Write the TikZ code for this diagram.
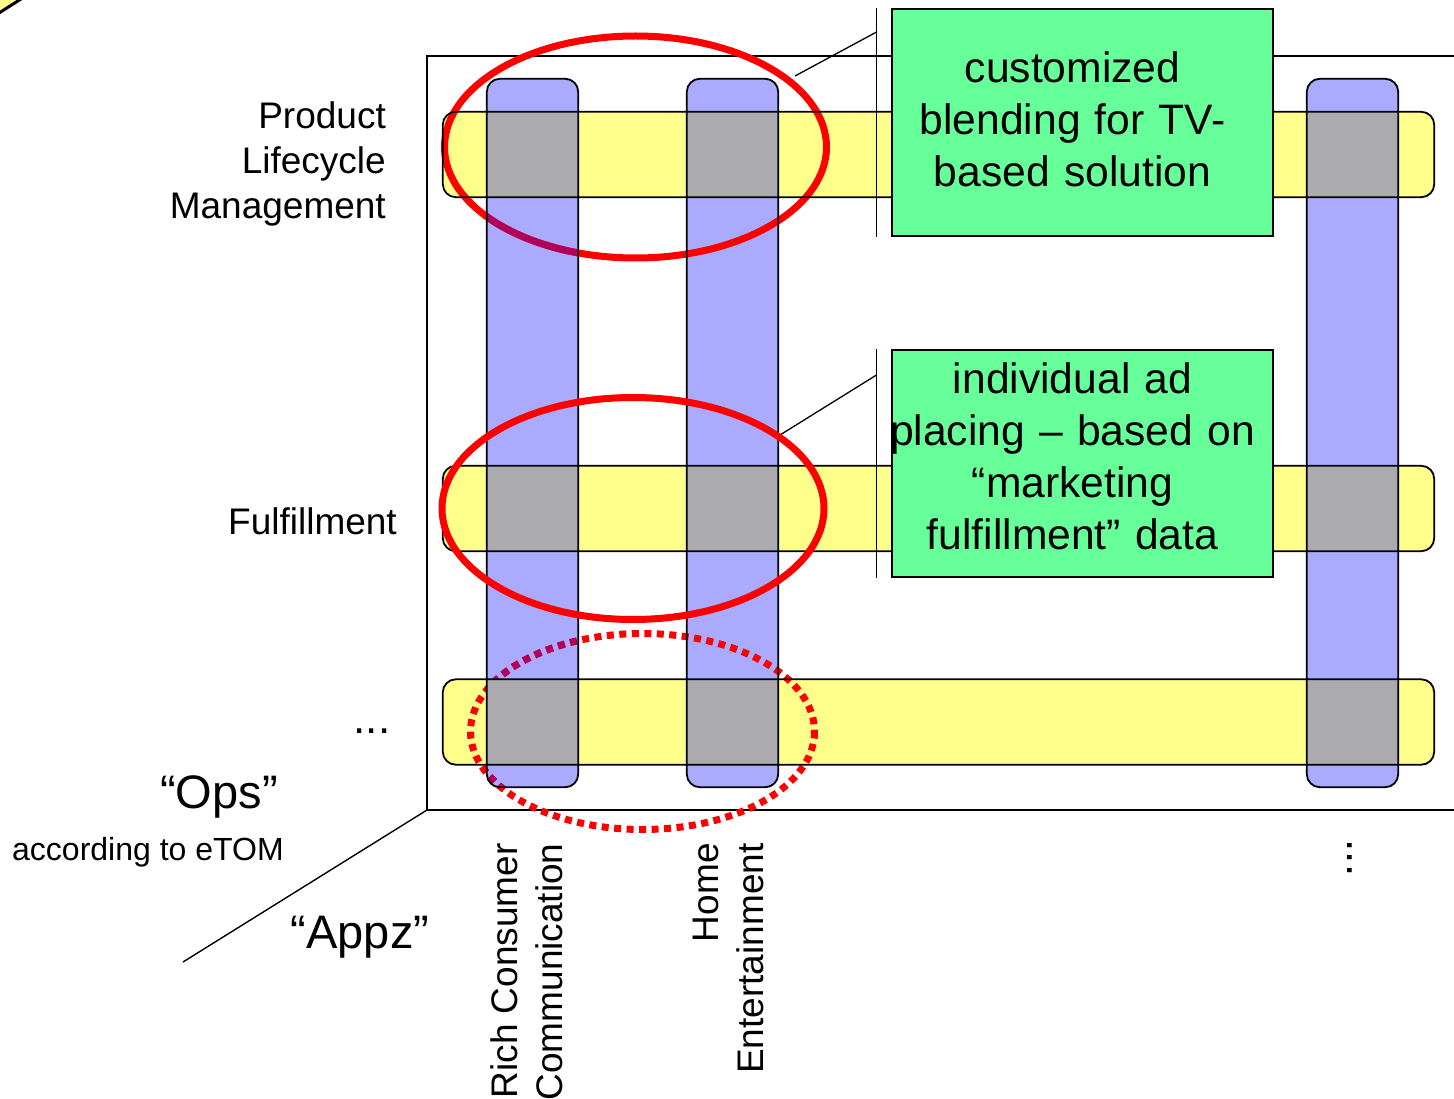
\documentclass[tikz,border=0pt]{standalone}
\usepackage{fontspec}
\setmainfont{Liberation Sans}
\usetikzlibrary{positioning}

\definecolor{appblue}{HTML}{AAAAFF}
\definecolor{opsyellow}{HTML}{FFFF8C}
\definecolor{crossgrey}{HTML}{ABAAAE}
\definecolor{notegreen}{HTML}{66FF99}
\definecolor{ringred}{HTML}{FF0000}
\definecolor{ringdark}{HTML}{B0005A}

\tikzset{
  appbar/.style={rounded corners=13pt, minimum width=91pt, minimum height=708pt, inner sep=0pt},
  opsbar/.style={rounded corners=13pt, minimum width=991pt, minimum height=85pt, inner sep=0pt},
  barline/.style={line width=1.8pt, rounded corners=13pt},
  note/.style={draw, line width=1.6pt, fill=notegreen, minimum width=381pt, minimum height=227pt, inner sep=0pt},
  notetext/.style={align=center, text width=375pt, font=\fontsize{42.6}{52}\selectfont, inner sep=0pt},
  lbl/.style={font=\fontsize{37}{45}\selectfont, inner sep=0pt},
  biglbl/.style={font=\fontsize{47}{56}\selectfont, inner sep=0pt},
  ring/.style={ringred, line width=7pt},
  dotring/.style={ringred, line width=7pt, dash pattern=on 7pt off 5.5pt},
}

\begin{document}
\begin{tikzpicture}[x=1pt, y=-1pt]
    \clip (0,0) rectangle (1454,1099);

    % corner of the arrow from the slide before
    \fill[opsyellow] (0,0) -- (19,0) -- (0,12) -- cycle;
    \draw[line width=3pt] (21,-1) -- (-1,13);

    % the two axes
    \coordinate (corner) at (427,810);
    \coordinate (axisend) at (183,962);
    \draw[line width=1.6pt] (1460,56) -- (427,56) -- (corner) -- (1460,810);
    \draw[line width=1.4pt] (corner) -- (axisend);

    % apps and ops bars
    \foreach \n/\x in {rcc/532.5, home/732.5, more/1352.5}
        \node[appbar, fill=appblue] (\n) at (\x,433) {};
    \foreach \n/\y in {plm/154.5, ful/508.5, etc/722}
        \node[opsbar, fill=opsyellow] (\n) at (938.5,\y) {};

    \draw[ring] (635.5,147) ellipse [x radius=191, y radius=111];
    \draw[dotring] (642.5,731.5) ellipse [x radius=172, y radius=98];
    \begin{scope}
        \clip (rcc.west |- plm.south) rectangle (rcc.east |- ful.north)
              (rcc.west |- ful.south) rectangle (rcc.east |- etc.north)
              (rcc.west |- etc.south) rectangle (rcc.south east);
        \draw[ring, ringdark] (635.5,147) ellipse [x radius=191, y radius=111];
        \draw[dotring, ringdark] (642.5,731.5) ellipse [x radius=172, y radius=98];
    \end{scope}

    \foreach \a in {rcc, home, more}
        \foreach \o in {plm, ful, etc}
            \fill[crossgrey] (\a.west |- \o.north) rectangle (\a.east |- \o.south);
    \foreach \n in {rcc, home, more, plm, ful, etc}
        \draw[barline] (\n.north west) rectangle (\n.south east);

    % callouts
    \node[note] (cust) at (1082.5,122.5) {};
    \node[notetext] (custtext) at ([xshift=-10pt, yshift=3.5pt]cust.center) {customized\\blending for TV-\\based solution};
    \coordinate (custtip) at (795,76);
    \draw[line width=1.3pt] ([xshift=-15pt]cust.north west) -- ([xshift=-15pt]cust.south west);
    \draw[line width=1.3pt] (custtip) -- ([xshift=-15pt, yshift=-24pt]cust.north west);

    \node[note] (ad) at (1082.5,463.5) {};
    \node[notetext] (adtext) at ([xshift=-10pt, yshift=7.5pt]ad.center) {individual ad\\placing – based on\\“marketing\\fulfillment” data};
    \coordinate (adtip) at (780,435);
    \draw[line width=1.3pt] ([xshift=-15pt]ad.north west) -- ([xshift=-15pt]ad.south west);
    \draw[line width=1.3pt] (adtip) -- ([xshift=-15pt, yshift=-26pt]ad.north west);

    \draw[ring] (633,508.5) ellipse [x radius=191, y radius=111];

    % labels
    \node[lbl, align=right, anchor=north east] (plmlbl) at (386,101) {Product\\Lifecycle\\Management};
    \node[lbl, anchor=east] (fullbl) at (397,521) {Fulfillment};
    \node[lbl, font=\fontsize{44}{50}\selectfont, anchor=base] (etclbl) at (372,733) {...};
    \node[biglbl, anchor=base] (opslbl) at (219,808) {“Ops”};
    \node[inner sep=0pt, font=\fontsize{32}{38}\selectfont, anchor=base west] (etomlbl) at (12,860) {according to eTOM};
    \node[biglbl, anchor=base] (appzlbl) at (360,948) {“Appz”};
    \node[lbl, align=right, rotate=90, anchor=east] (rcclbl) at ([xshift=-6pt, yshift=-56pt]rcc.south) {Rich Consumer\\Communication};
    \node[lbl, align=right, rotate=90, anchor=east] (homelbl) at ([xshift=-4pt, yshift=-56pt]home.south) {Home\\Entertainment};
    \node[lbl, font=\fontsize{44}{50}\selectfont, rotate=-90, anchor=base] (morelbl) at (1347,858) {...};
\end{tikzpicture}
\end{document}
